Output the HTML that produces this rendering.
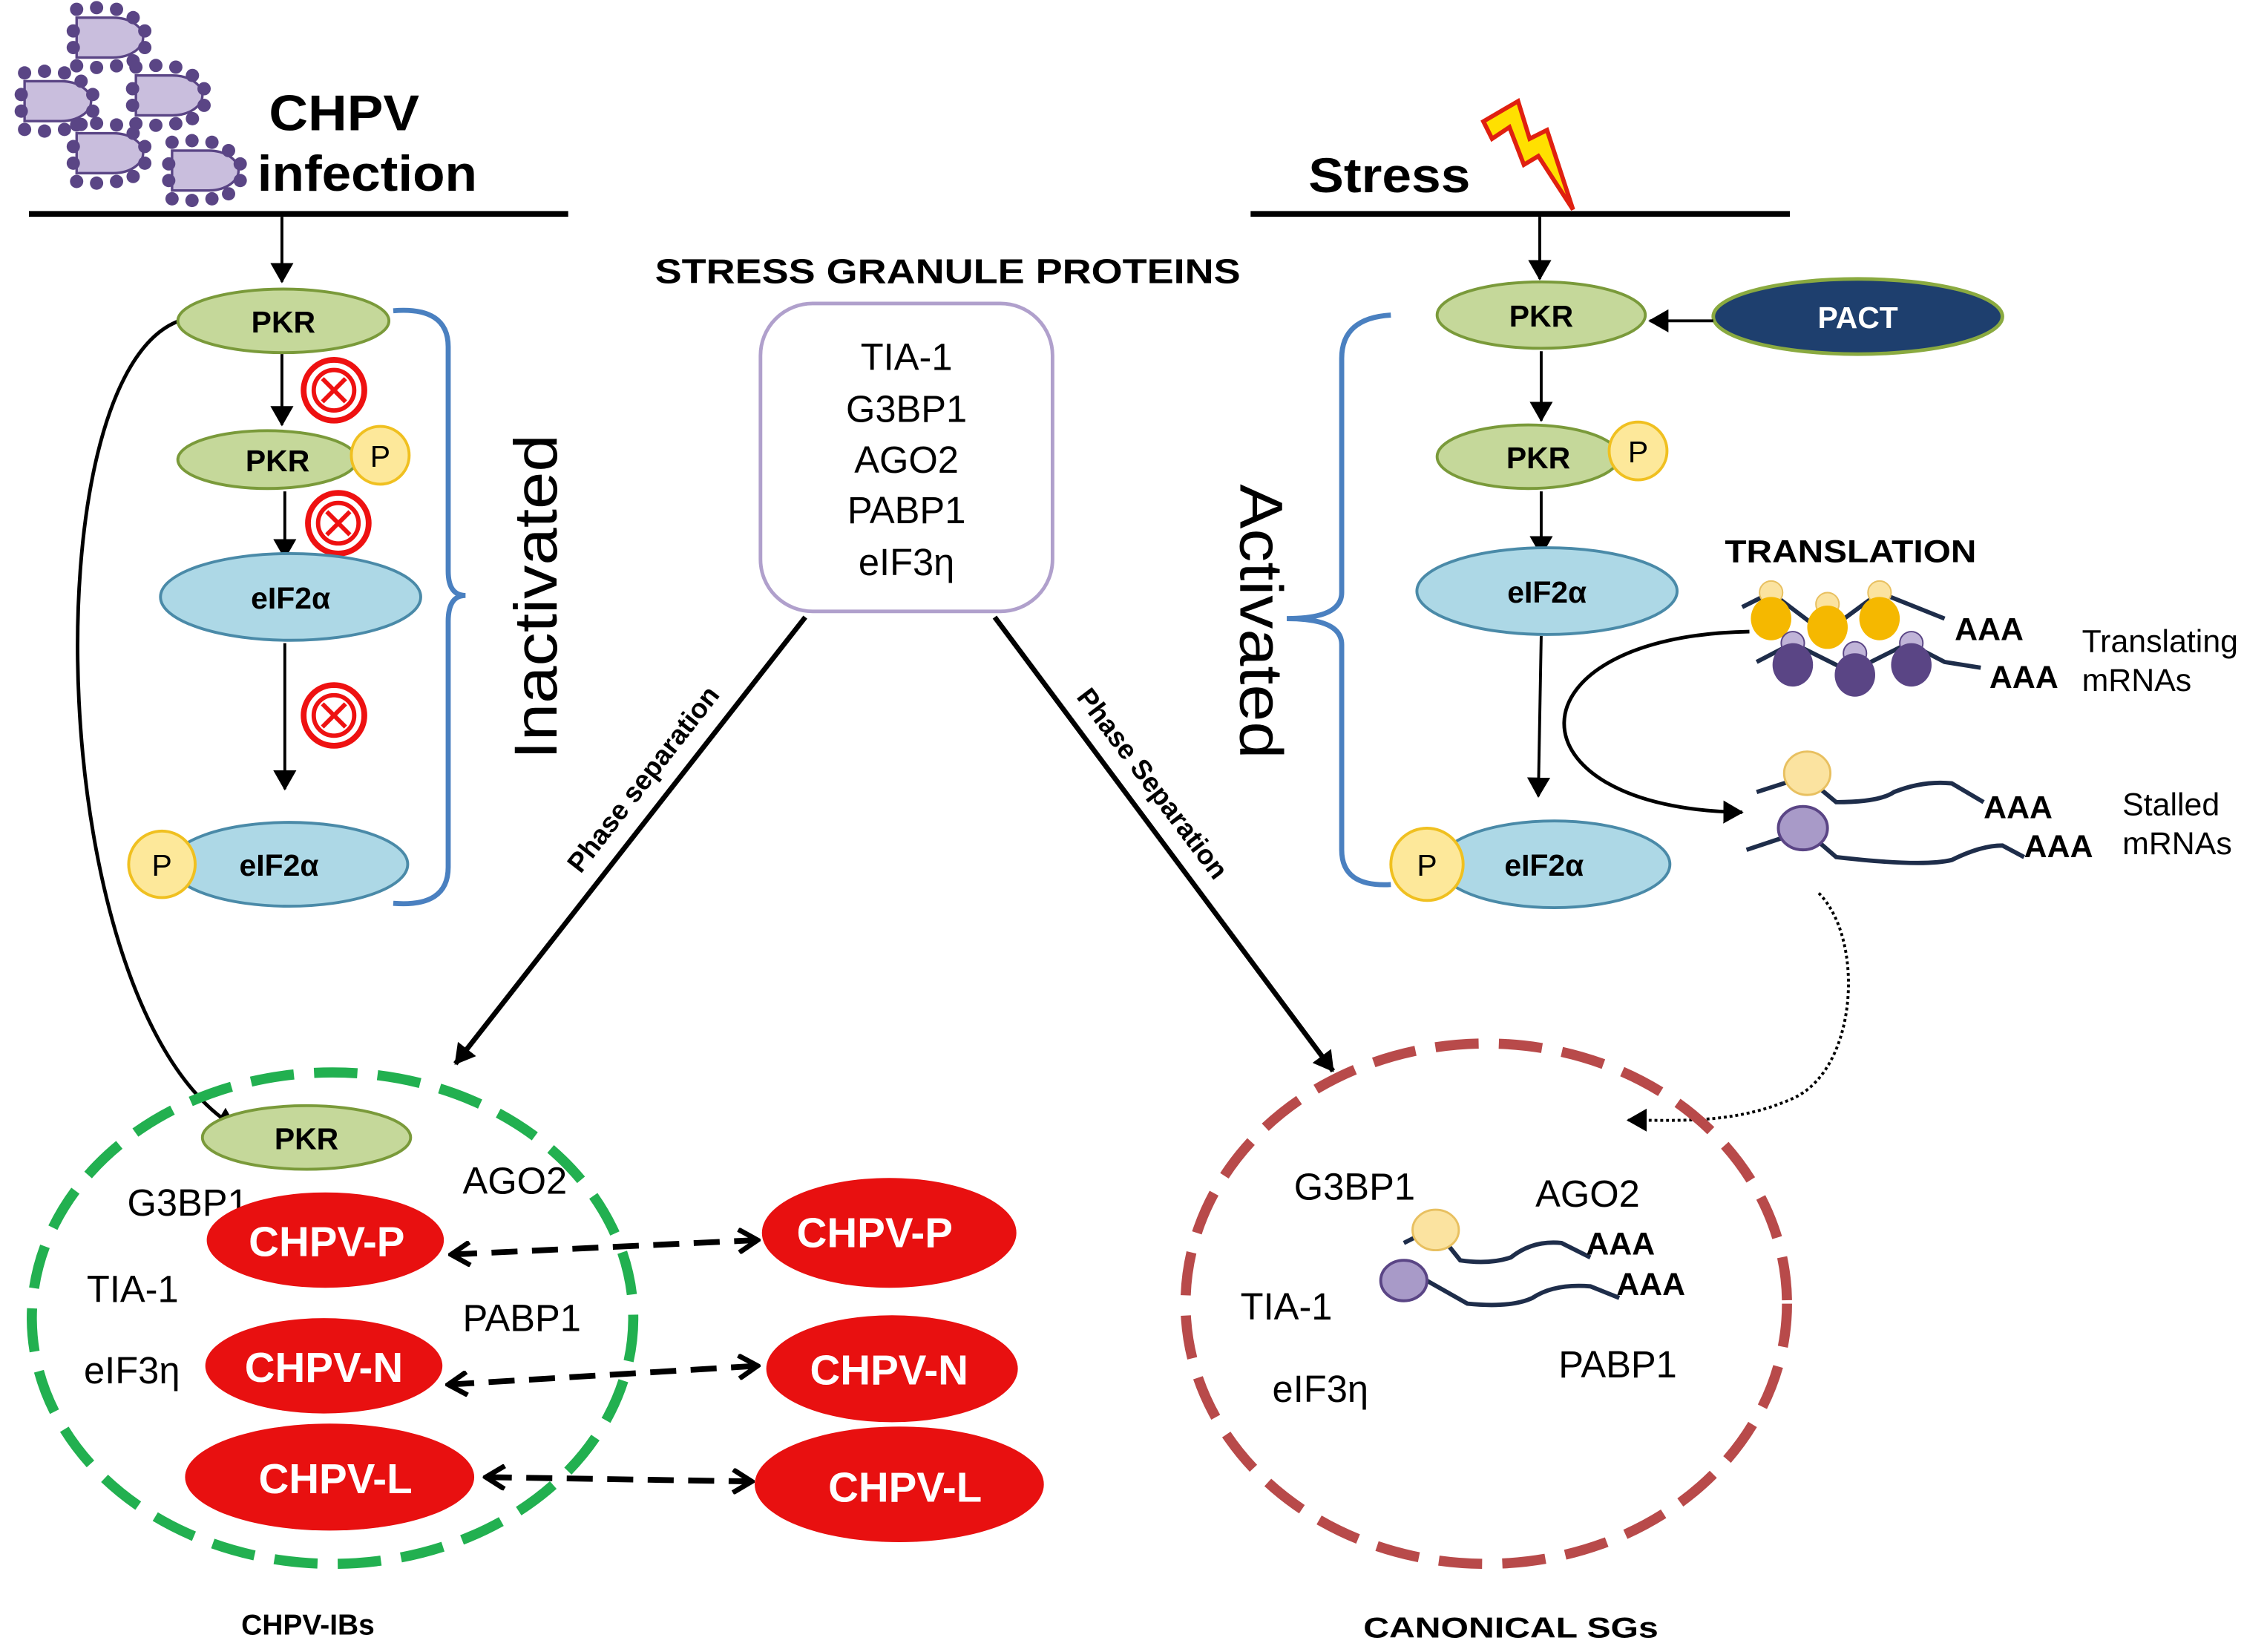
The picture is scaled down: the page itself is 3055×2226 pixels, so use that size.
<!DOCTYPE html>
<html><head><meta charset="utf-8"><style>
html,body{margin:0;padding:0;background:#fff;}
svg{display:block;}
text{font-family:"Liberation Sans",sans-serif;}
.b{font-weight:bold;}
</style></head><body>
<svg width="3055" height="2226" viewBox="0 0 1568 1143" preserveAspectRatio="none" xmlns="http://www.w3.org/2000/svg">
<defs>
<marker id="ah2" markerWidth="16" markerHeight="16" refX="13" refY="8" orient="auto" markerUnits="userSpaceOnUse"><path d="M0,0 L14,8 L0,16 z" fill="#000"/></marker>
<marker id="op" markerWidth="16" markerHeight="18" refX="14" refY="9" orient="auto-start-reverse" markerUnits="userSpaceOnUse"><path d="M1,1 L14,9 L1,17" fill="none" stroke="#000" stroke-width="3.5"/></marker>
<g id="virus">
<path d="M-20,-12 h22 a18,12 0 0 1 0,24 h-22 z" fill="#c9bedd" stroke="#5a4585" stroke-width="1.5"/>
<g fill="#5a4585">
<circle cx="-20" cy="-17" r="4"/><circle cx="-8" cy="-18" r="4"/><circle cx="4" cy="-17" r="4"/><circle cx="14" cy="-12" r="4"/>
<circle cx="21" cy="-4" r="4"/><circle cx="21" cy="6" r="4"/><circle cx="14" cy="14" r="4"/>
<circle cx="-20" cy="17" r="4"/><circle cx="-8" cy="18" r="4"/><circle cx="4" cy="17" r="4"/>
<circle cx="-22" cy="-4" r="4"/><circle cx="-22" cy="6" r="4"/>
</g></g>
<g id="xc"><circle r="21" fill="#fff" stroke="#e11" stroke-width="4"/><circle r="14" fill="none" stroke="#e11" stroke-width="3"/><path d="M-8,-8 L8,8 M8,-8 L-8,8" stroke="#e11" stroke-width="3"/></g>
</defs>

<!-- viruses -->
<g transform="translate(76,26) scale(1.15)"><use href="#virus"/></g>
<g transform="translate(40,70) scale(1.15)"><use href="#virus"/></g>
<g transform="translate(117,66) scale(1.15)"><use href="#virus"/></g>
<g transform="translate(76,106) scale(1.15)"><use href="#virus"/></g>
<g transform="translate(142,118) scale(1.15)"><use href="#virus"/></g>
<text x="186" y="90" font-size="35" class="b" textLength="104" lengthAdjust="spacingAndGlyphs">CHPV</text>
<text x="178" y="132" font-size="35" class="b" textLength="152" lengthAdjust="spacingAndGlyphs">infection</text>
<line x1="20" y1="148" x2="393" y2="148" stroke="#000" stroke-width="4"/>
<line x1="195" y1="150" x2="195" y2="195" stroke="#000" stroke-width="2" marker-end="url(#ah2)"/>

<!-- left pathway -->
<path d="M124,222 C20,260 30,700 163,780" fill="none" stroke="#000" stroke-width="2.5" marker-end="url(#ah2)"/>
<ellipse cx="196" cy="222" rx="73" ry="22" fill="#c5d89a" stroke="#7a9a3a" stroke-width="2"/>
<text x="196" y="230" font-size="21" class="b" text-anchor="middle">PKR</text>
<line x1="195" y1="245" x2="195" y2="294" stroke="#000" stroke-width="2" marker-end="url(#ah2)"/>
<use href="#xc" x="231" y="270"/>
<ellipse cx="185" cy="318" rx="62" ry="20" fill="#c5d89a" stroke="#7a9a3a" stroke-width="2"/>
<text x="192" y="326" font-size="21" class="b" text-anchor="middle">PKR</text>
<circle cx="263" cy="315" r="20" fill="#fde89a" stroke="#f0c020" stroke-width="2"/>
<text x="263" y="323" font-size="21" text-anchor="middle">P</text>
<line x1="197" y1="340" x2="197" y2="386" stroke="#000" stroke-width="2" marker-end="url(#ah2)"/>
<use href="#xc" x="234" y="362"/>
<ellipse cx="201" cy="413" rx="90" ry="30" fill="#add8e6" stroke="#4a8aa8" stroke-width="2"/>
<text x="201" y="421" font-size="21" class="b" text-anchor="middle">eIF2α</text>
<line x1="197" y1="445" x2="197" y2="546" stroke="#000" stroke-width="2" marker-end="url(#ah2)"/>
<use href="#xc" x="231" y="495"/>
<ellipse cx="200" cy="598" rx="82" ry="29" fill="#add8e6" stroke="#4a8aa8" stroke-width="2"/>
<text x="193" y="606" font-size="21" class="b" text-anchor="middle">eIF2α</text>
<circle cx="112" cy="598" r="23" fill="#fde89a" stroke="#f0c020" stroke-width="2"/>
<text x="112" y="606" font-size="21" text-anchor="middle">P</text>
<path d="M272,215 Q310,212 310,240 L310,395 Q310,412 322,412 Q310,412 310,430 L310,600 Q310,628 272,625" fill="none" stroke="#4a80c0" stroke-width="3.5"/>
<text transform="translate(385,413) rotate(-90)" font-size="42" text-anchor="middle" textLength="225" lengthAdjust="spacingAndGlyphs">Inactivated</text>

<!-- center -->
<text x="453" y="196" font-size="24" class="b" textLength="405" lengthAdjust="spacingAndGlyphs">STRESS GRANULE PROTEINS</text>
<rect x="526" y="210" width="202" height="213" rx="36" fill="#fff" stroke="#b0a0cc" stroke-width="2.5"/>
<g font-size="26" text-anchor="middle">
<text x="627" y="256">TIA-1</text><text x="627" y="292">G3BP1</text><text x="627" y="327">AGO2</text><text x="627" y="362">PABP1</text><text x="627" y="398">eIF3η</text>
</g>
<line x1="557" y1="427" x2="315" y2="736" stroke="#000" stroke-width="3.5" marker-end="url(#ah2)"/>
<line x1="688" y1="427" x2="922" y2="741" stroke="#000" stroke-width="3.5" marker-end="url(#ah2)"/>
<text transform="translate(450,543) rotate(-52)" font-size="19" class="b" text-anchor="middle">Phase separation</text>
<text transform="translate(792,546) rotate(53)" font-size="19" class="b" text-anchor="middle">Phase Separation</text>

<!-- CHPV-IBs -->
<ellipse cx="230" cy="912" rx="208" ry="170" fill="none" stroke="#22b050" stroke-width="7" stroke-dasharray="30 14"/>
<ellipse cx="212" cy="787" rx="72" ry="22" fill="#c5d89a" stroke="#7a9a3a" stroke-width="2"/>
<text x="212" y="795" font-size="21" class="b" text-anchor="middle">PKR</text>
<g font-size="26">
<text x="88" y="841">G3BP1</text><text x="320" y="826">AGO2</text><text x="60" y="901">TIA-1</text><text x="320" y="921">PABP1</text><text x="58" y="957">eIF3η</text>
</g>
<g fill="#e81010">
<ellipse cx="225" cy="858" rx="82" ry="33"/><ellipse cx="224" cy="945" rx="82" ry="33"/><ellipse cx="228" cy="1022" rx="100" ry="37"/>
<ellipse cx="615" cy="853" rx="88" ry="38"/><ellipse cx="617" cy="947" rx="87" ry="37"/><ellipse cx="622" cy="1027" rx="100" ry="40"/>
</g>
<g font-size="29" class="b" fill="#fff" text-anchor="middle">
<text x="226" y="869">CHPV-P</text><text x="224" y="956">CHPV-N</text><text x="232" y="1033">CHPV-L</text>
<text x="605" y="863">CHPV-P</text><text x="615" y="958">CHPV-N</text><text x="626" y="1039">CHPV-L</text>
</g>
<g stroke="#000" stroke-width="4" stroke-dasharray="18 10" fill="none">
<line x1="312" y1="868" x2="524" y2="858" marker-start="url(#op)" marker-end="url(#op)"/>
<line x1="310" y1="958" x2="524" y2="945" marker-start="url(#op)" marker-end="url(#op)"/>
<line x1="336" y1="1022" x2="520" y2="1025" marker-start="url(#op)" marker-end="url(#op)"/>
</g>
<text x="213" y="1131" font-size="20" class="b" text-anchor="middle">CHPV-IBs</text>

<!-- right pathway -->
<text x="905" y="133" font-size="34" class="b" textLength="112" lengthAdjust="spacingAndGlyphs">Stress</text>
<path d="M1026,84 L1050,70 L1058,96 L1070,90 L1088,145 L1064,108 L1054,114 L1044,88 L1032,96 z" fill="#ffe000" stroke="#e02010" stroke-width="3"/>
<line x1="865" y1="148" x2="1238" y2="148" stroke="#000" stroke-width="4"/>
<line x1="1065" y1="150" x2="1065" y2="193" stroke="#000" stroke-width="2" marker-end="url(#ah2)"/>
<ellipse cx="1066" cy="218" rx="72" ry="23" fill="#c5d89a" stroke="#7a9a3a" stroke-width="2"/>
<text x="1066" y="226" font-size="21" class="b" text-anchor="middle">PKR</text>
<ellipse cx="1285" cy="219" rx="100" ry="26" fill="#1e3f6e" stroke="#8aaa40" stroke-width="2.5"/>
<text x="1285" y="227" font-size="21" class="b" fill="#fff" text-anchor="middle">PACT</text>
<line x1="1185" y1="222" x2="1141" y2="222" stroke="#000" stroke-width="2" marker-end="url(#ah2)"/>
<line x1="1066" y1="243" x2="1066" y2="291" stroke="#000" stroke-width="2" marker-end="url(#ah2)"/>
<ellipse cx="1057" cy="316" rx="63" ry="22" fill="#c5d89a" stroke="#7a9a3a" stroke-width="2"/>
<text x="1064" y="324" font-size="21" class="b" text-anchor="middle">PKR</text>
<circle cx="1133" cy="312" r="20" fill="#fde89a" stroke="#f0c020" stroke-width="2"/>
<text x="1133" y="320" font-size="21" text-anchor="middle">P</text>
<line x1="1066" y1="340" x2="1066" y2="384" stroke="#000" stroke-width="2" marker-end="url(#ah2)"/>
<ellipse cx="1070" cy="409" rx="90" ry="30" fill="#add8e6" stroke="#4a8aa8" stroke-width="2"/>
<text x="1070" y="417" font-size="21" class="b" text-anchor="middle">eIF2α</text>
<line x1="1066" y1="440" x2="1064" y2="551" stroke="#000" stroke-width="2" marker-end="url(#ah2)"/>
<ellipse cx="1075" cy="598" rx="80" ry="30" fill="#add8e6" stroke="#4a8aa8" stroke-width="2"/>
<text x="1068" y="606" font-size="21" class="b" text-anchor="middle">eIF2α</text>
<circle cx="987" cy="598" r="25" fill="#fde89a" stroke="#f0c020" stroke-width="2"/>
<text x="987" y="606" font-size="21" text-anchor="middle">P</text>
<path d="M962,218 Q928,220 928,248 L928,410 Q928,428 890,428 Q928,428 928,446 L928,588 Q928,614 962,612" fill="none" stroke="#4a80c0" stroke-width="3.5"/>
<text transform="translate(858,430) rotate(90)" font-size="42" text-anchor="middle" textLength="190" lengthAdjust="spacingAndGlyphs">Activated</text>

<!-- translation -->
<text x="1193" y="389" font-size="22" class="b" textLength="174" lengthAdjust="spacingAndGlyphs">TRANSLATION</text>
<g fill="none" stroke="#1e2d4a" stroke-width="3">
<path d="M1205,420 L1225,410 L1262,438 L1300,410 L1345,428"/>
<path d="M1215,458 L1240,445 L1280,465 L1320,445 L1345,458 L1370,462"/>
</g>
<g stroke="#e8c060" stroke-width="1"><circle cx="1225" cy="410" r="8" fill="#fbe3a0"/><circle cx="1264" cy="418" r="8" fill="#fbe3a0"/><circle cx="1300" cy="410" r="8" fill="#fbe3a0"/></g>
<g fill="#f5b800"><ellipse cx="1225" cy="428" rx="14" ry="15"/><ellipse cx="1264" cy="434" rx="14" ry="15"/><ellipse cx="1300" cy="428" rx="14" ry="15"/></g>
<g fill="#c0b4d8" stroke="#5a4585" stroke-width="1"><circle cx="1240" cy="445" r="8"/><circle cx="1283" cy="452" r="8"/><circle cx="1322" cy="445" r="8"/></g>
<g fill="#5a4585"><ellipse cx="1240" cy="460" rx="14" ry="15"/><ellipse cx="1283" cy="467" rx="14" ry="15"/><ellipse cx="1322" cy="460" rx="14" ry="15"/></g>
<text x="1352" y="443" font-size="22" class="b">AAA</text>
<text x="1376" y="476" font-size="22" class="b">AAA</text>
<text x="1440" y="451" font-size="22">Translating</text>
<text x="1440" y="478" font-size="22">mRNAs</text>
<path d="M1210,437 C1040,440 1040,560 1205,562" fill="none" stroke="#000" stroke-width="2.5" marker-end="url(#ah2)"/>
<!-- stalled -->
<g fill="none" stroke="#1e2d4a" stroke-width="3">
<path d="M1215,548 L1240,540 M1258,545 L1270,555 Q1300,555 1310,548 Q1330,540 1350,542 L1372,555"/>
<path d="M1208,588 L1232,580 M1255,580 L1270,593 Q1330,600 1350,595 Q1370,585 1385,585 L1400,593"/>
</g>
<ellipse cx="1250" cy="535" rx="16" ry="15" fill="#fbe3a0" stroke="#e8c060" stroke-width="1.5"/>
<ellipse cx="1247" cy="573" rx="17" ry="15" fill="#a89ac8" stroke="#5a4585" stroke-width="2"/>
<text x="1372" y="566" font-size="22" class="b">AAA</text>
<text x="1400" y="593" font-size="22" class="b">AAA</text>
<text x="1468" y="564" font-size="22">Stalled</text>
<text x="1468" y="591" font-size="22">mRNAs</text>
<path d="M1258,618 C1290,650 1285,740 1240,760 C1200,778 1160,775 1126,775" fill="none" stroke="#000" stroke-width="2" stroke-dasharray="2 2" marker-end="url(#ah2)"/>

<!-- canonical SGs -->
<ellipse cx="1028" cy="902" rx="208" ry="180" fill="none" stroke="#b84a4a" stroke-width="7" stroke-dasharray="30 14"/>
<g font-size="26">
<text x="895" y="830">G3BP1</text><text x="1062" y="835">AGO2</text><text x="858" y="913">TIA-1</text><text x="880" y="970">eIF3η</text><text x="1078" y="953">PABP1</text>
</g>
<g fill="none" stroke="#1e2d4a" stroke-width="3">
<path d="M971,860 L985,853 M1002,862 L1010,872 Q1030,875 1045,870 Q1060,858 1080,860 L1100,870"/>
<path d="M960,893 L975,885 M985,885 L1015,902 Q1045,905 1060,898 Q1075,888 1100,890 L1120,898"/>
</g>
<ellipse cx="993" cy="851" rx="16" ry="14" fill="#fbe3a0" stroke="#e8c060" stroke-width="1.5"/>
<ellipse cx="971" cy="886" rx="16" ry="14" fill="#a89ac8" stroke="#5a4585" stroke-width="2"/>
<text x="1097" y="868" font-size="22" class="b">AAA</text>
<text x="1118" y="896" font-size="22" class="b">AAA</text>
<text x="1045" y="1133" font-size="20" class="b" text-anchor="middle" textLength="204" lengthAdjust="spacingAndGlyphs">CANONICAL SGs</text>
</svg>
</body></html>
